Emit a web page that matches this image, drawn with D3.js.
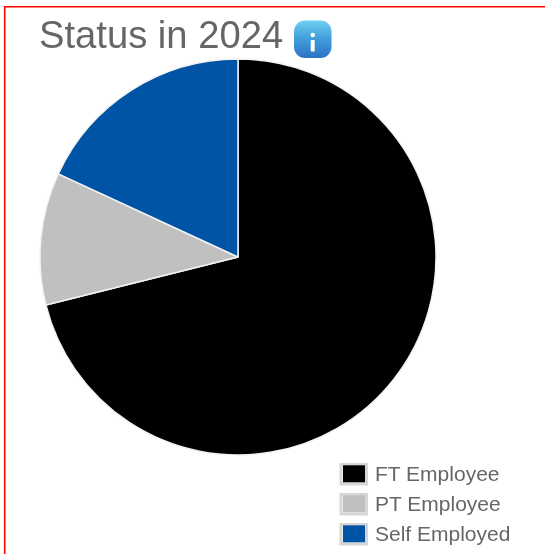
<!DOCTYPE html>
<html><head><meta charset="utf-8">
<script src="https://cdnjs.cloudflare.com/ajax/libs/d3/7.8.5/d3.min.js"></script>
<style>html,body{margin:0;padding:0;background:#fff}svg{display:block;filter:blur(0.35px)}text{font-family:"Liberation Sans",Arial,sans-serif;fill:#666}</style>
</head><body><div id="c"></div>
<script>
const categories = ["FT Employee","PT Employee","Self Employed"];
const values = [71.1,10.8,18.1];
const colors = ["#000000","#c0c0c0","#0054a6"];
const titleText = "Status in 2024";
const W=545,H=554,cx=238,cy=257,R=198;
const svg=d3.select("#c").append("svg").attr("width",W).attr("height",H);
svg.append("path").attr("d",`M${W},6.7H4.7V${H}`).attr("fill","none").attr("stroke","#ff0000").attr("stroke-width",1.6);
svg.append("text").attr("x",39).attr("y",48).attr("font-size",38.2).text(titleText);
const defs=svg.append("defs");
const g=defs.append("linearGradient").attr("id","ig").attr("x1",0).attr("x2",0).attr("y1",0).attr("y2",1);
g.append("stop").attr("offset",0).attr("stop-color","#6fd0f0");
g.append("stop").attr("offset",.5).attr("stop-color","#3f9ddb");
g.append("stop").attr("offset",1).attr("stop-color","#2f72c4");
const ic=svg.append("g").attr("transform","translate(294,20.5)");
ic.append("rect").attr("width",37.5).attr("height",37.5).attr("rx",11).attr("fill","url(#ig)");
ic.append("circle").attr("cx",18.7).attr("cy",14.5).attr("r",2.3).attr("fill","#fff");
ic.append("rect").attr("x",16.7).attr("y",19.5).attr("width",4).attr("height",11.5).attr("rx",1).attr("fill","#fff");
const pie=d3.pie().sort(null).value(d=>d);
const arc=d3.arc().innerRadius(0).outerRadius(R);
svg.append("g").attr("transform",`translate(${cx},${cy})`).selectAll("path").data(pie(values)).join("path")
  .attr("d",arc).attr("fill",(d,i)=>colors[i]).attr("stroke","#f2f2f2").attr("stroke-width",1.5).attr("stroke-linejoin","round");
const y=d3.scalePoint().domain(categories).range([474,534]);
const lg=svg.append("g").selectAll("g").data(categories).join("g").attr("transform",d=>`translate(0,${y(d)})`);
lg.append("rect").attr("x",341).attr("y",-9.5).attr("width",25.5).attr("height",19.5).attr("fill","none").attr("stroke","#d6d6d6").attr("stroke-width",3);
lg.append("rect").attr("x",343).attr("y",-8.7).attr("width",22).attr("height",17).attr("fill",(d,i)=>colors[i]);
lg.append("text").attr("x",375).attr("y",6.7).attr("font-size",21).text(d=>d);
</script></body></html>
